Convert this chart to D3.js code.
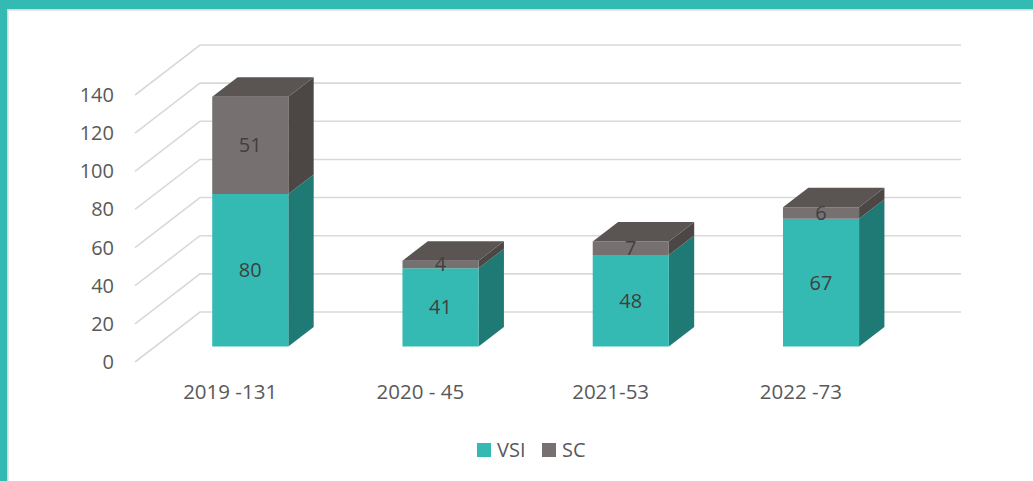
<!DOCTYPE html>
<html>
<head>
<meta charset="utf-8">
<script src="https://cdn.jsdelivr.net/npm/d3@7"></script>
<style>
  html, body { margin: 0; padding: 0; background: #fff; }
  svg { display: block; }
  text { font-family: "Open Sans", "Noto Sans", sans-serif; }
</style>
</head>
<body>
<svg id="chart" width="1033" height="481"></svg>
<script>
// Yearly totals split into two series
const categories = ["2019 -131", "2020 - 45", "2021-53", "2022 -73"];
const vsiValues = [80, 41, 48, 67];
const scValues = [51, 4, 7, 6];
const seriesNames = ["VSI", "SC"];
const yTicks = [0, 20, 40, 60, 80, 100, 120, 140];

const W = 1033, H = 481;
const svg = d3.select("#chart");

// Frame: teal bands on top and left with a faint shadow line
svg.append("rect").attr("x", 0).attr("y", 0).attr("width", W).attr("height", H).attr("fill", "#fff");
svg.append("rect").attr("x", 7).attr("y", 9).attr("width", W - 7).attr("height", 1.5).attr("fill", "#d6d6d6");
svg.append("rect").attr("x", 7).attr("y", 9).attr("width", 1.5).attr("height", H - 9).attr("fill", "#d6d6d6");
svg.append("rect").attr("x", 0).attr("y", 0).attr("width", W).attr("height", 9).attr("fill", "#33bbb3");
svg.append("rect").attr("x", 0).attr("y", 0).attr("width", 7).attr("height", H).attr("fill", "#33bbb3");

// Oblique 3D projection: front plane plus depth offset
const depthX = 65, depthY = -50;
const x = d3.scaleBand().domain(categories).range([135, 896]).paddingInner(0).paddingOuter(0);
const y = d3.scaleLinear().domain([0, 140]).range([362, 95]);
const proj = (px, v, d) => [px + d * depthX, y(v) + d * depthY];

const barFrac = 0.40;       // bar width relative to category band
const dStart = 0.31, dDepth = 0.39; // bar placement in depth

// Walls: side wall diagonals and back wall lines
const grid = svg.append("g").attr("stroke", "#d9d9d9").attr("stroke-width", 1.6).attr("fill", "none");
yTicks.forEach(t => {
  const a = proj(x.range()[0], t, 0), b = proj(x.range()[0], t, 1), c = proj(x.range()[1], t, 1);
  grid.append("path").attr("d", `M${a[0]},${a[1]}L${b[0]},${b[1]}L${c[0]},${c[1]}`);
});

// Y axis labels
svg.append("g").selectAll("text").data(yTicks).join("text")
  .attr("x", 114).attr("y", d => y(d)).attr("dy", "0.35em")
  .attr("text-anchor", "end").attr("font-size", 20).attr("fill", "#595959")
  .text(d => d);

// Category labels on the front edge
svg.append("g").selectAll("text").data(categories).join("text")
  .attr("x", d => x(d) + x.bandwidth() / 2).attr("y", 392).attr("dy", "0.35em")
  .attr("text-anchor", "middle").attr("font-size", 20.5).attr("fill", "#595959")
  .text(d => d);

const colors = {
  VSI: { front: "#34bab3", side: "#1f7974", top: "#2a9993" },
  SC: { front: "#767170", side: "#4c4745", top: "#5a5553" }
};

const stacked = categories.map((c, i) => {
  const segs = [];
  let base = 0;
  [vsiValues[i], scValues[i]].forEach((v, k) => {
    segs.push({ cat: c, name: seriesNames[k], v0: base, v1: base + v, value: v });
    base += v;
  });
  return segs;
});

const pts = arr => arr.map(p => p.join(",")).join(" ");
const bars = svg.append("g");
stacked.forEach(segs => {
  const c = segs[0].cat;
  const bw = x.bandwidth() * barFrac;
  const xl = x(c) + (x.bandwidth() - bw) / 2, xr = xl + bw;
  segs.forEach((s, k) => {
    const col = colors[s.name];
    const d0 = dStart, d1 = dStart + dDepth;
    // side face
    bars.append("polygon").attr("fill", col.side).attr("points", pts([
      proj(xr, s.v0, d0), proj(xr, s.v0, d1), proj(xr, s.v1, d1), proj(xr, s.v1, d0)
    ]));
    // front face
    bars.append("polygon").attr("fill", col.front).attr("points", pts([
      proj(xl, s.v0, d0), proj(xr, s.v0, d0), proj(xr, s.v1, d0), proj(xl, s.v1, d0)
    ]));
    // top face on the uppermost segment
    if (k === segs.length - 1) {
      bars.append("polygon").attr("fill", col.top).attr("points", pts([
        proj(xl, s.v1, d0), proj(xr, s.v1, d0), proj(xr, s.v1, d1), proj(xl, s.v1, d1)
      ]));
    }
  });
  segs.forEach(s => {
    const bwc = (xl + xr) / 2;
    const p = proj(bwc, (s.v0 + s.v1) / 2, dStart);
    bars.append("text").attr("x", p[0]).attr("y", p[1]).attr("dy", "0.35em")
      .attr("text-anchor", "middle").attr("font-size", 20).attr("fill", "#404040")
      .text(s.value);
  });
});

// Legend
const legend = svg.append("g").attr("transform", "translate(477,443)");
const lx = [0, 65];
seriesNames.forEach((n, i) => {
  legend.append("rect").attr("x", lx[i]).attr("y", 0).attr("width", 14).attr("height", 14).attr("fill", colors[n].front);
  legend.append("text").attr("x", lx[i] + 20).attr("y", 7).attr("dy", "0.35em")
    .attr("font-size", 20).attr("fill", "#595959").text(n);
});
</script>
</body>
</html>
